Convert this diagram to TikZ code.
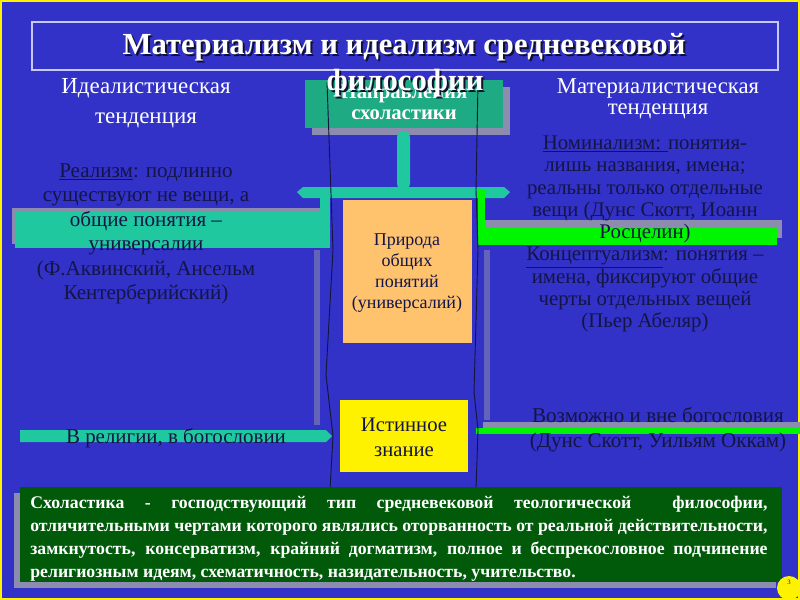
\documentclass[tikz,border=0pt]{standalone}
\usepackage{fontspec}
\setmainfont{Liberation Serif}
\definecolor{bgblue}{RGB}{50,50,200}
\definecolor{tealbar}{RGB}{32,200,160}
\definecolor{tealbox}{RGB}{30,170,130}
\definecolor{brightgreen}{RGB}{0,245,0}
\definecolor{orangebox}{RGB}{255,195,110}
\definecolor{darkgreen}{RGB}{0,90,10}
\definecolor{shadowgray}{RGB}{140,140,175}
\definecolor{inktext}{RGB}{20,20,70}
\definecolor{titleline}{RGB}{200,200,255}
\definecolor{outline}{RGB}{20,20,60}
\tikzset{
  bodytext/.style={inner sep=0pt, align=center, text=inktext},
  headtext/.style={inner sep=0pt, align=center, text=white},
  calloutline/.style={draw=outline, line width=0.7pt},
}
\begin{document}
\begin{tikzpicture}[x=0.75pt,y=-0.75pt]
\useasboundingbox (0,0) rectangle (800,600);
% background and frame
\fill[bgblue] (0,0) rectangle (800,600);
\draw[yellow, line width=1.5pt] (1,1) rectangle (799,599);
% title frame
\draw[titleline, line width=0.8pt] (32,22) rectangle (778,70);

% shadows
\fill[shadowgray] (312,87) rectangle (510,135);
\fill[shadowgray] (12,208) rectangle (326,244);
\fill[shadowgray] (483,220) rectangle (782,238);
\fill[shadowgray] (483,422) rectangle (800,428);
\fill[shadowgray] (14,493) rectangle (776,588);
\fill[shadowgray!55!bgblue] (484,250) rectangle (490,420);
\fill[shadowgray!55!bgblue] (314,250) rectangle (320,425);

% teal box "Направления схоластики"
\fill[tealbox] (305,80) rectangle (503,128);
% stem and horizontal bar
\fill[tealbar, rounded corners=5pt] (397,131) -- (410,131) -- (410,190) -- (397,190) -- cycle;
\fill[tealbar] (297,192) -- (303,187) -- (504,187) -- (510,192) -- (504,198) -- (303,198) -- cycle;
% left band
\fill[tealbar] (320,197) rectangle (330,212);
\fill[tealbar] (15,212) rectangle (330,248);
% right band (bright green)
\fill[brightgreen] (478,190) rectangle (485,245);
\fill[brightgreen] (478,227) rectangle (777,245);
% lower bands
\fill[tealbar] (20,430) -- (326,430) -- (332,436) -- (326,442) -- (20,442) -- cycle;
\fill[brightgreen] (476,428) rectangle (800,434);

% orange and yellow boxes
\fill[orangebox] (343,200) rectangle (472,343);
\fill[yellow] (340,400) rectangle (468,472);

% callout lines
\draw[calloutline] (327,82) -- (333,250) -- (326,375) -- (333,436) -- (330,490);
\draw[calloutline] (478,82) -- (476,190) -- (478,250) -- (474,392) -- (478,430) -- (476,490);

% bottom dark green box
\fill[darkgreen] (20,487) rectangle (782,582);

% page circle
\fill[yellow] (789,588) circle (12);
\node[inner sep=0pt, text=inktext, font=\fontsize{5}{6}\selectfont] (pagenum) at (789,582) {3};

% texts
\node[headtext, text=outline!80!black, font=\bfseries\fontsize{23}{24}\selectfont] (titleS) at (406,49) {Материализм и идеализм средневековой};
\node[headtext, font=\bfseries\fontsize{23}{24}\selectfont] (title) at (404,47) {Материализм и идеализм средневековой};

\node[headtext, font=\bfseries\fontsize{15.5}{15.75}\selectfont] (schol) at (404,102) {Направления\\схоластики};

\node[headtext, text=outline!80!black, font=\bfseries\fontsize{23}{24}\selectfont] (title2S) at (407,85) {философии};
\node[headtext, font=\bfseries\fontsize{23}{24}\selectfont] (title2) at (405,83) {философии};

\node[headtext, font=\fontsize{17.2}{22.5}\selectfont] (idealh) at (146,103) {Идеалистическая\\тенденция};
\node[headtext, font=\fontsize{17}{16}\selectfont] (materh) at (658,99) {Материалистическая\\тенденция};

\node[bodytext, font=\fontsize{15.8}{18.4}\selectfont] (realism) at (146,234)
  {\underline{Реализм}: подлинно\\существуют не вещи, а\\общие понятия –\\универсалии\\(Ф.Аквинский, Ансельм\\Кентерберийский)};

\node[bodytext, font=\fontsize{15.6}{16.7}\selectfont] (nominal) at (645,234)
  {\underline{Номинализм: }понятия-\\лишь названия, имена;\\реальны только отдельные\\вещи (Дунс Скотт, Иоанн\\Росцелин)\\\underline{Концептуализм}: понятия –\\имена, фиксируют общие\\черты отдельных вещей\\(Пьер Абеляр)};

\node[bodytext, font=\fontsize{13.5}{15.75}\selectfont] (nature) at (407,273) {Природа\\общих\\понятий\\(универсалий)};
\node[bodytext, font=\fontsize{15.5}{18.75}\selectfont] (truth) at (404,437) {Истинное\\знание};

\node[bodytext, font=\fontsize{15.7}{16}\selectfont] (relig) at (176,438) {В религии, в богословии};
\node[bodytext, font=\fontsize{15.8}{18.75}\selectfont] (outside) at (658,430) {Возможно и вне богословия\\(Дунс Скотт, Уильям Оккам)};

\node[inner sep=0pt, text=white, text width=553pt, align=justify, font=\bfseries\fontsize{13.3}{17.25}\selectfont] (scholdef) at (399,539)
  {Схоластика - господствующий тип средневековой теологической \ философии,\linebreak
   отличительными чертами которого являлись оторванность от реальной действительности,\linebreak
   замкнутость, консерватизм, крайний догматизм, полное и беспрекословное подчинение\linebreak
   религиозным идеям, схематичность, назидательность, учительство.};
\end{tikzpicture}
\end{document}
